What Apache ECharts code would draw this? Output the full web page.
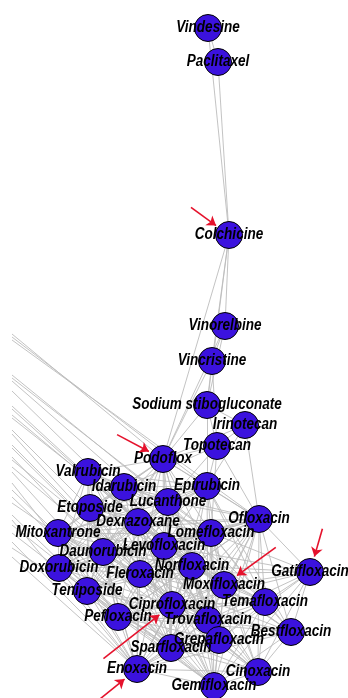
<!DOCTYPE html>
<html>
<head>
<meta charset="utf-8">
<script src="https://cdn.jsdelivr.net/npm/echarts@6/dist/echarts.min.js"></script>
<style>
  html, body { margin: 0; padding: 0; background: #ffffff; }
  #chart { width: 348px; height: 698px; }
</style>
</head>
<body>
<div id="chart"></div>
<script>
// Drug similarity network: node names and layout positions
const drugNames = [
  'Vindesine', 'Paclitaxel', 'Colchicine', 'Vinorelbine', 'Vincristine',
  'Sodium stibogluconate', 'Irinotecan', 'Topotecan', 'Podoflox', 'Valrubicin',
  'Idarubicin', 'Epirubicin', 'Lucanthone', 'Etoposide', 'Dexrazoxane',
  'Ofloxacin', 'Lomefloxacin', 'Mitoxantrone', 'Levofloxacin', 'Daunorubicin',
  'Doxorubicin', 'Norfloxacin', 'Fleroxacin', 'Gatifloxacin', 'Moxifloxacin',
  'Teniposide', 'Temafloxacin', 'Ciprofloxacin', 'Pefloxacin', 'Trovafloxacin',
  'Bestfloxacin', 'Grepafloxacin', 'Sparfloxacin', 'Enoxacin', 'Cinoxacin',
  'Gemifloxacin'
];
const drugX = [
  208, 218, 229, 225, 212, 207, 245, 217, 163, 88,
  124, 207, 168, 90, 138, 259, 211, 58, 164, 103,
  59, 192, 140, 310, 224, 87, 265, 172, 118, 208,
  291, 219, 171, 137, 258, 214
];
const drugY = [
  28, 62, 235, 326, 361, 405, 425, 446, 459, 472,
  487, 486, 502, 508, 522, 519, 533, 533, 546, 552,
  568, 566, 574, 572, 585, 591, 602, 605, 617, 620,
  632, 640, 648, 669, 672, 686
];

// Links: for each drug, the indices of later drugs it connects to
const neighbours = [
  [1, 2],
  [2],
  [3, 4, 5, 8],
  [4, 5, 8],
  [5, 7, 8],
  [6, 7, 8, 11],
  [7, 8, 11, 15],
  [8, 10, 11, 12, 15, 16],
  [9, 10, 11, 12, 13, 14, 15, 16, 17, 18, 19, 20, 21, 22, 24, 25, 27, 29],
  [10, 11, 12, 13, 14, 16, 17, 18, 19, 20, 22, 25, 27],
  [11, 12, 13, 14, 15, 16, 17, 18, 19, 20, 21, 22, 25, 27, 29],
  [12, 13, 14, 15, 16, 17, 18, 19, 20, 21, 24, 25, 26, 27, 29, 30],
  [13, 14, 15, 16, 17, 18, 19, 20, 21, 22, 24, 25, 26, 27, 29, 31, 32],
  [14, 16, 17, 18, 19, 20, 21, 22, 25, 27, 28, 32, 33],
  [15, 16, 17, 18, 19, 20, 21, 22, 24, 25, 27, 28, 29, 31, 32, 33, 35],
  [16, 17, 18, 19, 20, 21, 22, 23, 24, 25, 26, 27, 28, 29, 30, 31, 32, 33, 34, 35],
  [17, 18, 19, 20, 21, 22, 23, 24, 25, 26, 27, 28, 29, 30, 31, 32, 33, 34, 35],
  [18, 19, 20, 21, 22, 25, 27, 28, 29, 32, 33],
  [19, 20, 21, 22, 23, 24, 25, 26, 27, 28, 29, 30, 31, 32, 33, 34, 35],
  [20, 21, 22, 25, 27, 28, 29, 32, 33, 35],
  [21, 22, 25, 27, 28, 32, 33],
  [22, 23, 24, 25, 26, 27, 28, 29, 30, 31, 32, 33, 34, 35],
  [23, 24, 25, 26, 27, 28, 29, 30, 31, 32, 33, 34, 35],
  [24, 26, 27, 29, 30, 31, 34, 35],
  [26, 27, 28, 29, 30, 31, 32, 33, 34, 35],
  [27, 28, 29, 32, 33, 35],
  [27, 28, 29, 30, 31, 32, 33, 34, 35],
  [28, 29, 30, 31, 32, 33, 34, 35],
  [29, 30, 31, 32, 33, 34, 35],
  [30, 31, 32, 33, 34, 35],
  [31, 32, 33, 34, 35],
  [32, 33, 34, 35],
  [33, 34, 35],
  [34, 35],
  [35],
  []
];

// Links leaving the visible area on the left: entry height and the drug they reach
const outsideX = 12;
const outsideY = [
  334, 337, 340, 375, 378, 381, 391, 406, 409, 415,
  418, 430, 434, 445, 448, 457, 460, 467, 472, 483,
  490, 497, 503, 515, 520, 525, 533, 542, 548, 557
];
const outsideTarget = [
  8, 11, 15, 12, 16, 26, 21, 14, 18, 21,
  24, 13, 22, 27, 22, 19, 29, 31, 32, 28,
  35, 32, 34, 28, 33, 35, 25, 33, 28, 33
];

// Highlighted drugs, with the pointer direction (degrees, screen space) and length
const markedDrugs = ['Colchicine', 'Podoflox', 'Moxifloxacin', 'Gatifloxacin', 'Ciprofloxacin', 'Enoxacin'];
const markerAngles = [216, 208, 324, 286, 142, 141];
const markerLengths = [31, 36, 48, 29, 71, 32];
const markerGap = 16;

// Label typeface: bold italic sans, horizontally condensed
const labelFont = 'italic bold 16px "Liberation Sans", Arial, sans-serif';
const labelCondense = 0.845;

const nodes = drugNames.map((name, i) => ({
  name: name,
  value: [drugX[i], drugY[i]]
}));
outsideY.forEach((y, k) => {
  nodes.push({
    name: 'edge-' + k,
    value: [outsideX, y],
    symbolSize: 0,
    itemStyle: { opacity: 0 }
  });
});

const links = [];
outsideY.forEach((y, k) => {
  links.push({ source: drugNames.length + k, target: outsideTarget[k] });
});
neighbours.forEach((list, i) => {
  list.forEach(j => links.push({ source: i, target: j }));
});

const markerLines = markedDrugs.map((name, k) => {
  const i = drugNames.indexOf(name);
  const a = markerAngles[k] * Math.PI / 180;
  const dx = Math.cos(a), dy = Math.sin(a);
  const tip = [drugX[i] + dx * markerGap, drugY[i] + dy * markerGap];
  const tail = [tip[0] + dx * markerLengths[k], tip[1] + dy * markerLengths[k]];
  return { coords: [tail, tip] };
});

const labelData = drugNames.map((name, i) => [drugX[i], drugY[i], name]);

const chart = echarts.init(document.getElementById('chart'), null, { renderer: 'canvas' });
chart.setOption({
  animation: false,
  backgroundColor: '#ffffff',
  grid: { left: 0, right: 0, top: 0, bottom: 0 },
  xAxis: { type: 'value', min: 0, max: 348, show: false },
  yAxis: { type: 'value', min: 0, max: 698, inverse: true, show: false },
  series: [
    {
      type: 'graph',
      layout: 'none',
      coordinateSystem: 'cartesian2d',
      symbol: 'circle',
      symbolSize: 27,
      roam: false,
      silent: true,
      itemStyle: { color: '#3b12de', borderColor: '#000000', borderWidth: 1 },
      lineStyle: { color: '#bcbcbc', width: 0.9, opacity: 1, curveness: 0 },
      label: { show: false },
      emphasis: { disabled: true },
      data: nodes,
      links: links,
      z: 2
    },
    {
      type: 'custom',
      coordinateSystem: 'cartesian2d',
      silent: true,
      clip: false,
      z: 4,
      data: labelData,
      renderItem: function (params, api) {
        const p = api.coord([api.value(0), api.value(1)]);
        return {
          type: 'text',
          x: p[0],
          y: p[1],
          scaleX: labelCondense,
          style: {
            text: labelData[params.dataIndex][2],
            font: labelFont,
            fill: '#000000',
            align: 'center',
            verticalAlign: 'middle'
          }
        };
      }
    },
    {
      type: 'lines',
      coordinateSystem: 'cartesian2d',
      silent: true,
      symbol: ['none', 'arrow'],
      symbolSize: 9,
      lineStyle: { color: '#e5122c', width: 1.6, opacity: 1, curveness: 0 },
      data: markerLines,
      z: 5
    }
  ]
});
</script>
</body>
</html>
